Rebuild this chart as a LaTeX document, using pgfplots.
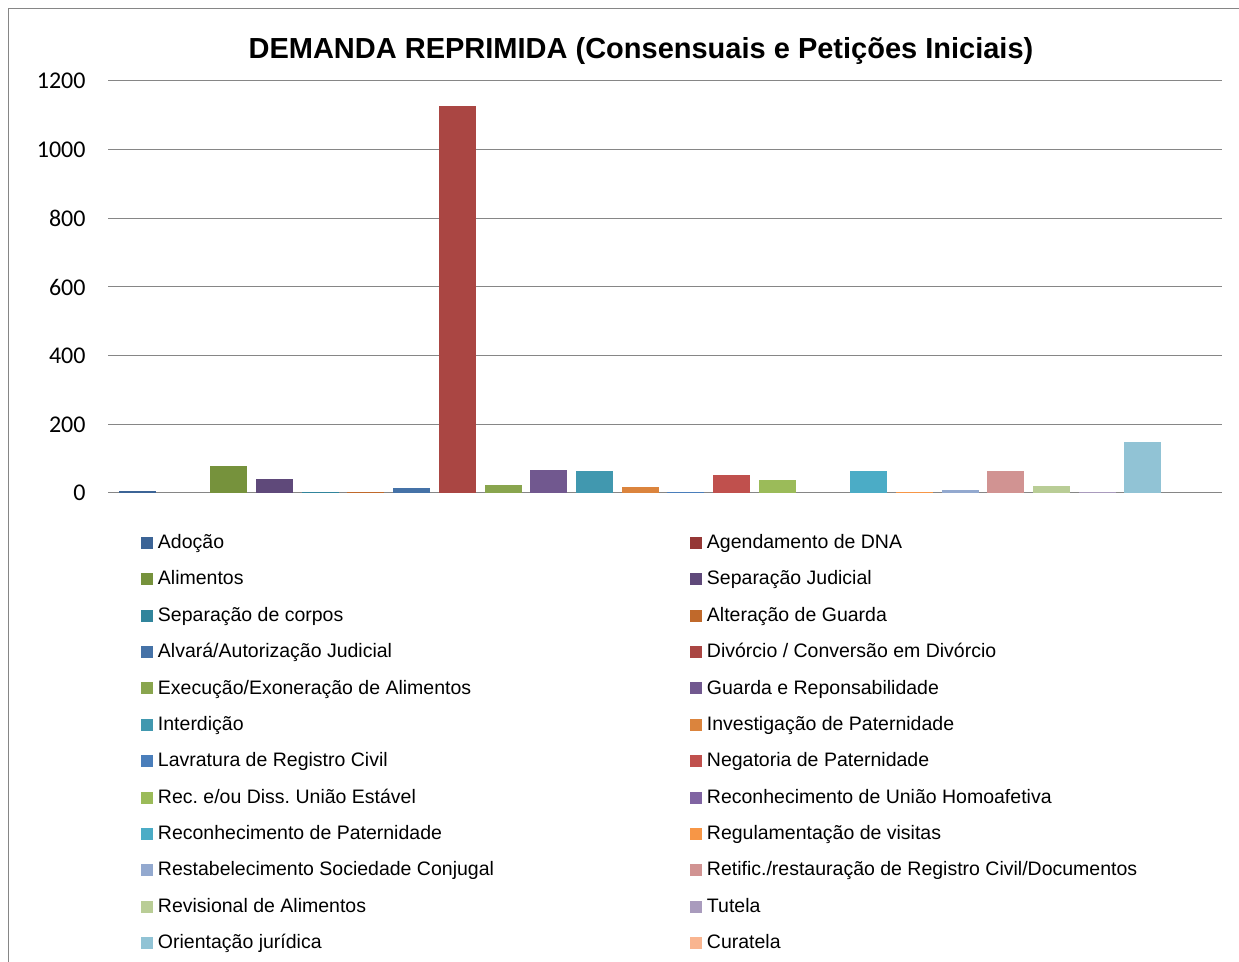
\documentclass[border=0pt]{standalone}
\usepackage{pgfplots}
\pgfplotsset{compat=1.18}
\usepackage{fontspec}
\setmainfont{Liberation Sans}
\newfontfamily\carlito{Carlito}
\frenchspacing
\definecolor{c1}{HTML}{3C6496}
\definecolor{c2}{HTML}{953735}
\definecolor{c3}{HTML}{76923C}
\definecolor{c4}{HTML}{5F497A}
\definecolor{c5}{HTML}{31859C}
\definecolor{c6}{HTML}{C0692B}
\definecolor{c7}{HTML}{4572A7}
\definecolor{c8}{HTML}{AA4643}
\definecolor{c9}{HTML}{89A54E}
\definecolor{c10}{HTML}{71588F}
\definecolor{c11}{HTML}{4198AF}
\definecolor{c12}{HTML}{DB843D}
\definecolor{c13}{HTML}{4A7EBB}
\definecolor{c14}{HTML}{C0504D}
\definecolor{c15}{HTML}{9BBB59}
\definecolor{c16}{HTML}{8064A2}
\definecolor{c17}{HTML}{4BACC6}
\definecolor{c18}{HTML}{F79646}
\definecolor{c19}{HTML}{93A9CF}
\definecolor{c20}{HTML}{D19392}
\definecolor{c21}{HTML}{B9CD96}
\definecolor{c22}{HTML}{A99BBD}
\definecolor{c23}{HTML}{91C3D5}
\definecolor{c24}{HTML}{F9B590}
\definecolor{gridc}{HTML}{868686}
\newcommand\legtxt[1]{\makebox[266pt][l]{#1}}
\begin{document}
\begin{tikzpicture}
\useasboundingbox (0pt,0pt) rectangle (619.5pt,481pt);
\draw[gridc, line width=0.5pt] (4pt,0pt) -- (4pt,476.5pt) -- (619.5pt,476.5pt);
\node at (320.5pt,455.5pt) {\bfseries\fontsize{14.5}{16}\selectfont DEMANDA REPRIMIDA (Consensuais e Petições Iniciais)};
\begin{axis}[
  at={(54pt,234.5pt)}, anchor=south west,
  scale only axis, width=557pt, height=206pt,
  xmin=-0.645, xmax=23.73, ymin=0, ymax=1200,
  ybar, bar width=18.5pt, bar shift=0pt,
  xtick=\empty,
  ytick={0,200,...,1200},
  major tick length=0pt,
  ymajorgrids,
  grid style={gridc, line width=0.5pt},
  axis line style={draw=none},
  yticklabel style={font=\carlito\fontsize{12}{14}\selectfont, xshift=-7.7pt},
  /pgf/number format/assume math mode=true,
  /pgf/number format/1000 sep={},
  legend image code/.code={\fill[#1] (0pt,-3pt) rectangle (6pt,3pt);},
  legend columns=2,
  legend cell align=left,
  legend style={at={(0.0296,-0.1004)}, anchor=north west, draw=none, fill=none,
    inner sep=0pt, outer sep=0pt, row sep=9.6pt,
    font=\fontsize{9.75}{12}\selectfont,
    nodes={inner sep=0pt},
    /tikz/every odd column/.append style={column sep=2.5pt},
    /tikz/every even column/.append style={column sep=0pt}},
]
\addplot[fill=c1, draw=none] coordinates {(0,6)}; \addlegendentry{\legtxt{Adoção}}
\addplot[fill=c2, draw=none] coordinates {(1,1)}; \addlegendentry{\legtxt{Agendamento de DNA}}
\addplot[fill=c3, draw=none] coordinates {(2,79)}; \addlegendentry{\legtxt{Alimentos}}
\addplot[fill=c4, draw=none] coordinates {(3,41)}; \addlegendentry{\legtxt{Separação Judicial}}
\addplot[fill=c5, draw=none] coordinates {(4,3)}; \addlegendentry{\legtxt{Separação de corpos}}
\addplot[fill=c6, draw=none] coordinates {(5,3)}; \addlegendentry{\legtxt{Alteração de Guarda}}
\addplot[fill=c7, draw=none] coordinates {(6,15)}; \addlegendentry{\legtxt{Alvará/Autorização Judicial}}
\addplot[fill=c8, draw=none] coordinates {(7,1127)}; \addlegendentry{\legtxt{Divórcio / Conversão em Divórcio}}
\addplot[fill=c9, draw=none] coordinates {(8,23)}; \addlegendentry{\legtxt{Execução/Exoneração de Alimentos}}
\addplot[fill=c10, draw=none] coordinates {(9,67)}; \addlegendentry{\legtxt{Guarda e Reponsabilidade}}
\addplot[fill=c11, draw=none] coordinates {(10,64)}; \addlegendentry{\legtxt{Interdição}}
\addplot[fill=c12, draw=none] coordinates {(11,18)}; \addlegendentry{\legtxt{Investigação de Paternidade}}
\addplot[fill=c13, draw=none] coordinates {(12,3)}; \addlegendentry{\legtxt{Lavratura de Registro Civil}}
\addplot[fill=c14, draw=none] coordinates {(13,53)}; \addlegendentry{\legtxt{Negatoria de Paternidade}}
\addplot[fill=c15, draw=none] coordinates {(14,38)}; \addlegendentry{\legtxt{Rec. e/ou Diss. União Estável}}
\addplot[fill=c16, draw=none] coordinates {(15,1)}; \addlegendentry{\legtxt{Reconhecimento de União Homoafetiva}}
\addplot[fill=c17, draw=none] coordinates {(16,64)}; \addlegendentry{\legtxt{Reconhecimento de Paternidade}}
\addplot[fill=c18, draw=none] coordinates {(17,3)}; \addlegendentry{\legtxt{Regulamentação de visitas}}
\addplot[fill=c19, draw=none] coordinates {(18,9)}; \addlegendentry{\legtxt{Restabelecimento Sociedade Conjugal}}
\addplot[fill=c20, draw=none] coordinates {(19,64)}; \addlegendentry{\legtxt{Retific./restauração de Registro Civil/Documentos}}
\addplot[fill=c21, draw=none] coordinates {(20,20)}; \addlegendentry{\legtxt{Revisional de Alimentos}}
\addplot[fill=c22, draw=none] coordinates {(21,3)}; \addlegendentry{\legtxt{Tutela}}
\addplot[fill=c23, draw=none] coordinates {(22,149)}; \addlegendentry{\legtxt{Orientação jurídica}}
\addplot[fill=c24, draw=none] coordinates {(23,1)}; \addlegendentry{\legtxt{Curatela}}
\end{axis}
\end{tikzpicture}
\end{document}
